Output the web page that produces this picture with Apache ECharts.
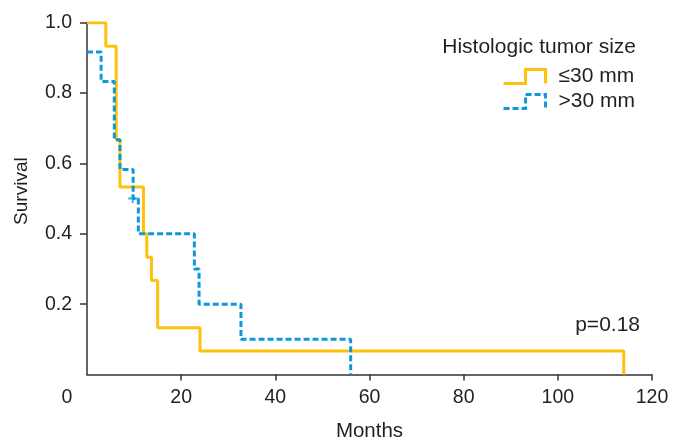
<!DOCTYPE html>
<html>
<head>
<meta charset="utf-8">
<script src="https://cdn.jsdelivr.net/npm/echarts@6/dist/echarts.min.js"></script>
<style>
html,body{margin:0;padding:0;background:#fff;}
#c{width:673px;height:440px;}
</style>
</head>
<body>
<div id="c"></div>
<script>
// Kaplan-Meier step points [months, survival]
const smallTimes = [0, 4, 6.2, 7, 12, 12.7, 13.7, 15, 24, 114];
const smallSurv  = [1.0, 0.933, 0.667, 0.533, 0.4, 0.333, 0.267, 0.133, 0.067, 0];
const largeTimes = [0, 3, 5.8, 7, 9.8, 10.9, 22.8, 23.8, 32.7, 56];
const largeSurv  = [0.917, 0.833, 0.667, 0.583, 0.5, 0.4, 0.3, 0.2, 0.1, 0];
const censorLarge = [[9.7, 0.5]];
const xTicks = [0, 20, 40, 60, 80, 100, 120];
const yTicks = [0.2, 0.4, 0.6, 0.8, 1.0];
const seriesNames = ['\u226430 mm', '>30 mm'];

const ORANGE = '#FDC20D';
const BLUE = '#0E98DA';
const TEXT = '#231f20';
const FONT = '"Liberation Sans", Arial, Helvetica, sans-serif';

const zip = (a, b) => a.map((v, i) => [v, b[i]]);

const chart = echarts.init(document.getElementById('c'), null, {renderer: 'canvas'});
chart.setOption({
  animation: false,
  backgroundColor: '#fff',
  textStyle: {fontFamily: FONT, color: TEXT},
  grid: {left: 87, right: 21, top: 22.7, bottom: 65.5, containLabel: false, outerBoundsMode: 'none'},
  title: {
    text: 'Histologic tumor size',
    right: 37, top: 37,
    padding: 0,
    textStyle: {fontFamily: FONT, fontSize: 21, fontWeight: 'normal', color: TEXT}
  },
  legend: {
    orient: 'vertical',
    right: 38, top: 66,
    padding: 0,
    itemWidth: 42, itemHeight: 14, itemGap: 4,
    symbolKeepAspect: false,
    textStyle: {fontFamily: FONT, fontSize: 21, color: TEXT, padding: [0, 0, 0, 8]},
    data: [
      {name: seriesNames[0], icon: 'path://M0,14 L22,14 L22,0 L42,0 L42,14',
       itemStyle: {color: 'rgba(0,0,0,0)', borderColor: ORANGE, borderWidth: 3, borderType: 'solid'}},
      {name: seriesNames[1], icon: 'path://M0,14 L22,14 L22,0 L42,0 L42,14',
       itemStyle: {color: 'rgba(0,0,0,0)', borderColor: BLUE, borderWidth: 3, borderType: [6, 3]}}
    ]
  },
  xAxis: {
    type: 'value', min: 0, max: 120, interval: 20,
    name: 'Months', nameLocation: 'middle', nameGap: 46,
    nameTextStyle: {fontFamily: FONT, fontSize: 20.5, color: TEXT},
    axisLine: {lineStyle: {color: '#333', width: 1.5}},
    axisTick: {show: true, length: 6, lineStyle: {color: '#333', width: 1.5},
               customValues: xTicks.slice(1)},
    splitLine: {show: false},
    axisLabel: {
      fontFamily: FONT, fontSize: 19.5, color: TEXT, margin: 13,
      formatter: v => v === 0 ? '{z|0}' : String(v),
      rich: {z: {fontFamily: FONT, fontSize: 19.5, color: TEXT, padding: [0, 40, 0, 0]}}
    }
  },
  yAxis: {
    type: 'value', min: 0, max: 1, interval: 0.2,
    name: 'Survival', nameLocation: 'middle', nameGap: 56,
    nameTextStyle: {fontFamily: FONT, fontSize: 19, color: TEXT, padding: [0, 0, 0, 15]},
    axisLine: {show: true, lineStyle: {color: '#333', width: 1.5}},
    axisTick: {show: true, length: 7, lineStyle: {color: '#333', width: 1.5},
               customValues: yTicks},
    splitLine: {show: false},
    axisLabel: {
      fontFamily: FONT, fontSize: 19.5, color: TEXT, margin: 15,
      customValues: yTicks,
      formatter: v => v === 0 ? '' : v.toFixed(1)
    }
  },
  series: [
    {
      name: seriesNames[0], type: 'line', step: 'end', symbol: 'none',
      data: zip(smallTimes, smallSurv),
      lineStyle: {color: ORANGE, width: 3},
      itemStyle: {color: ORANGE},
      z: 2
    },
    {
      name: seriesNames[1], type: 'line', step: 'end', symbol: 'none',
      data: zip(largeTimes, largeSurv),
      lineStyle: {color: BLUE, width: 3, type: [6, 3]},
      itemStyle: {color: BLUE},
      z: 3
    },
    {
      name: seriesNames[1] + ' censored', type: 'scatter',
      data: censorLarge,
      symbol: 'path://M3.5,0 L5.5,0 L5.5,3.5 L9,3.5 L9,5.5 L5.5,5.5 L5.5,9 L3.5,9 L3.5,5.5 L0,5.5 L0,3.5 L3.5,3.5 Z',
      symbolSize: 9,
      itemStyle: {color: BLUE},
      z: 4
    }
  ],
  graphic: [
    {type: 'text', right: 33, top: 315,
     style: {text: 'p=0.18', fontFamily: FONT, fontSize: 21, fill: TEXT}}
  ]
});
</script>
</body>
</html>
